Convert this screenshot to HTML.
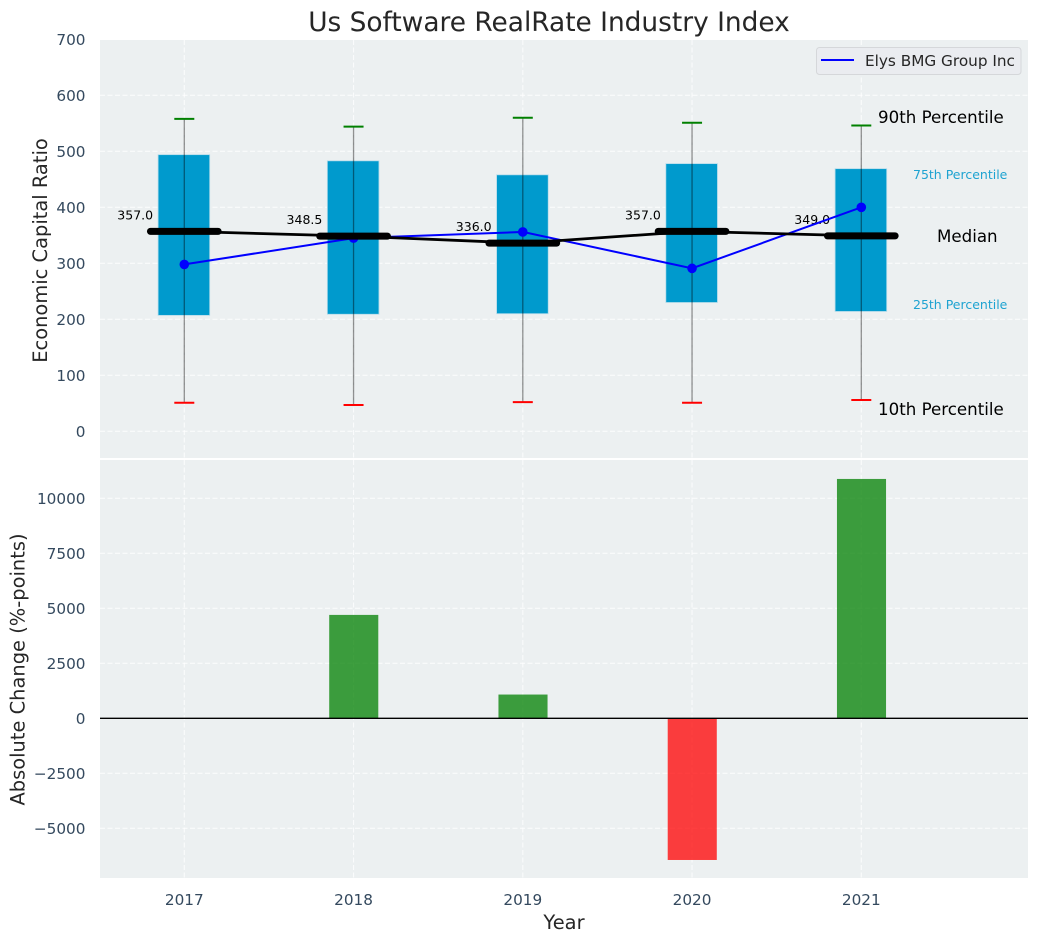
<!DOCTYPE html>
<html>
<head>
<meta charset="utf-8">
<title>Us Software RealRate Industry Index</title>
<style>
html,body{margin:0;padding:0;background:#fff;width:1039px;height:942px;overflow:hidden}
svg{display:block;font-family:"DejaVu Sans","Liberation Sans",sans-serif}
</style>
</head>
<body>
<svg id="chart" xmlns="http://www.w3.org/2000/svg" width="1039" height="942" viewBox="0 0 1039 942">
  <text x="549" y="31" font-size="26.4" fill="#262626" text-anchor="middle">Us Software RealRate Industry Index</text>
  <rect x="100" y="40" width="928" height="418" fill="#ecf0f1"/>
  <rect x="100" y="460" width="928" height="418" fill="#ecf0f1"/>
  <g id="top-grid"></g>
  <g id="bottom-grid"></g>
  <g id="top-marks"></g>
  <g id="bottom-marks"></g>
  <g id="labels"></g>
  <text transform="translate(47,250.5) rotate(-90)" font-size="19.44" fill="#262626" text-anchor="middle">Economic Capital Ratio</text>
  <text transform="translate(24.5,669.5) rotate(-90)" font-size="19.44" fill="#262626" text-anchor="middle">Absolute Change (%-points)</text>
  <text x="564" y="929" font-size="19.44" fill="#262626" text-anchor="middle">Year</text>
  <text x="878" y="123" font-size="16.67" fill="#000">90th Percentile</text>
  <text x="913" y="179" font-size="12.5" fill="#1ea3d1">75th Percentile</text>
  <text x="937" y="242" font-size="16.67" fill="#000">Median</text>
  <text x="913" y="309" font-size="12.5" fill="#1ea3d1">25th Percentile</text>
  <text x="878" y="415" font-size="16.67" fill="#000">10th Percentile</text>
  <g>
    <rect x="816.5" y="47.5" width="204.5" height="27" rx="3" fill="#eaecf0" stroke="#d5d7da" stroke-width="1"/>
    <line x1="821" y1="60" x2="854" y2="60" stroke="#0000ff" stroke-width="2"/>
    <text x="865" y="66" font-size="15.28" fill="#262626">Elys BMG Group Inc</text>
  </g>
</svg>
<script>
const years = [2017, 2018, 2019, 2020, 2021];
const p90 = [558, 544, 560, 551, 546];
const p75 = [494, 483, 458, 478, 469];
const medians = [357.0, 348.5, 336.0, 357.0, 349.0];
const p25 = [207, 209, 210, 230, 214];
const p10 = [51, 47, 52, 51, 56];
const company = [298, 345, 356, 291, 400];
const changes = [0, 4700, 1080, -6440, 10880];
const topTicks = [0, 100, 200, 300, 400, 500, 600, 700];
const bottomTicks = [-5000, -2500, 0, 2500, 5000, 7500, 10000];

const NS = 'http://www.w3.org/2000/svg';
const xScale = v => 184.3 + (v - 2017) * 169.25;
const xLen = d => d * 169.25;
const yTop = v => 431.3 - v * 0.56;
const yBottom = v => 718.3 - v * 0.022;

function make(parent, tag, attrs, content) {
  const el = document.createElementNS(NS, tag);
  for (const k in attrs) el.setAttribute(k, attrs[k]);
  if (content !== undefined) el.textContent = content;
  parent.appendChild(el);
  return el;
}
const fmtTick = v => (v < 0 ? '\u2212' + Math.abs(v) : String(v));

const topGrid = document.getElementById('top-grid');
const bottomGrid = document.getElementById('bottom-grid');
const topMarks = document.getElementById('top-marks');
const bottomMarks = document.getElementById('bottom-marks');
const labels = document.getElementById('labels');
const gridStyle = {stroke: '#ffffff', 'stroke-opacity': 0.75, 'stroke-width': 1.1, 'stroke-dasharray': '5 2.5'};

topTicks.forEach(t => {
  const g = make(topGrid, 'line', Object.assign({x1: 100, x2: 1028, y1: yTop(t), y2: yTop(t)}, gridStyle));
  
  
  const l = make(labels, 'text', {x: 85.5, y: yTop(t) + 5.5, 'font-size': 15.28, fill: '#34495e', 'text-anchor': 'end'}, fmtTick(t));
  
  
});
bottomTicks.forEach(t => {
  const g = make(bottomGrid, 'line', Object.assign({x1: 100, x2: 1028, y1: yBottom(t), y2: yBottom(t)}, gridStyle));
  
  
  const l = make(labels, 'text', {x: 85.5, y: yBottom(t) + 5.5, 'font-size': 15.28, fill: '#34495e', 'text-anchor': 'end'}, fmtTick(t));
  
  
});
years.forEach(y => {
  const x = xScale(y);
  const g1 = make(topGrid, 'line', Object.assign({x1: x, x2: x, y1: 40, y2: 458}, gridStyle));
  
  
  const g2 = make(bottomGrid, 'line', Object.assign({x1: x, x2: x, y1: 460, y2: 878}, gridStyle));
  
  
  const l = make(labels, 'text', {x: x, y: 905, 'font-size': 15.28, fill: '#34495e', 'text-anchor': 'middle'}, String(y));
  
  
});

// Boxes
years.forEach((y, i) => {
  const x = xScale(y) - 0.4, w = xLen(0.305);
  const box = make(topMarks, 'rect', {x: x - w / 2, y: yTop(p75[i]), width: w, height: yTop(p25[i]) - yTop(p75[i]), fill: '#009acd', stroke: '#b5dcea', 'stroke-width': 0.8});
  
  
});
// Whiskers and caps
years.forEach((y, i) => {
  const x = xScale(y);
  const wh = make(topMarks, 'line', {x1: x, x2: x, y1: yTop(p90[i]), y2: yTop(p10[i]), stroke: '#000', 'stroke-opacity': 0.42, 'stroke-width': 1.3});
  
  
  const hi = make(topMarks, 'line', {x1: x - 10, x2: x + 10, y1: yTop(p90[i]), y2: yTop(p90[i]), stroke: '#008000', 'stroke-width': 2});
  
  
  const lo = make(topMarks, 'line', {x1: x - 10, x2: x + 10, y1: yTop(p10[i]), y2: yTop(p10[i]), stroke: '#ff0000', 'stroke-width': 2});
  
  
});
// Median value labels
years.forEach((y, i) => {
  const t = make(topMarks, 'text', {x: xScale(y) - 67, y: yTop(medians[i]) - 12, 'font-size': 12.5, fill: '#000'}, medians[i].toFixed(1));
  
  
});
// Company series
const companyLine = make(topMarks, 'polyline', {points: years.map((y, i) => xScale(y) + ',' + yTop(company[i])).join(' '), fill: 'none', stroke: '#0000ff', 'stroke-width': 2});


years.forEach((y, i) => {
  const c = make(topMarks, 'circle', {cx: xScale(y), cy: yTop(company[i]), r: 4.8, fill: '#0000ff'});
  
  
});
// Median series
const medianLine = make(topMarks, 'polyline', {points: years.map((y, i) => xScale(y) + ',' + yTop(medians[i])).join(' '), fill: 'none', stroke: '#000', 'stroke-width': 2.8});


years.forEach((y, i) => {
  const x = xScale(y), h = xLen(0.2);
  const m = make(topMarks, 'line', {x1: x - h, x2: x + h, y1: yTop(medians[i]), y2: yTop(medians[i]), stroke: '#000', 'stroke-width': 7, 'stroke-linecap': 'round'});
  
  
});
// Change bars
years.forEach((y, i) => {
  const x = xScale(y) + 0.2, w = xLen(0.29), v = changes[i];
  const b = make(bottomMarks, 'rect', {x: x - w / 2, y: Math.min(yBottom(v), yBottom(0)), width: w, height: Math.abs(yBottom(v) - yBottom(0)), fill: v >= 0 ? '#008000' : '#ff0000', 'fill-opacity': 0.75});
  
  
});
const zeroLine = make(bottomMarks, 'line', {x1: 100, x2: 1028, y1: yBottom(0), y2: yBottom(0), stroke: '#000', 'stroke-width': 1.4});


</script>
</body>
</html>
